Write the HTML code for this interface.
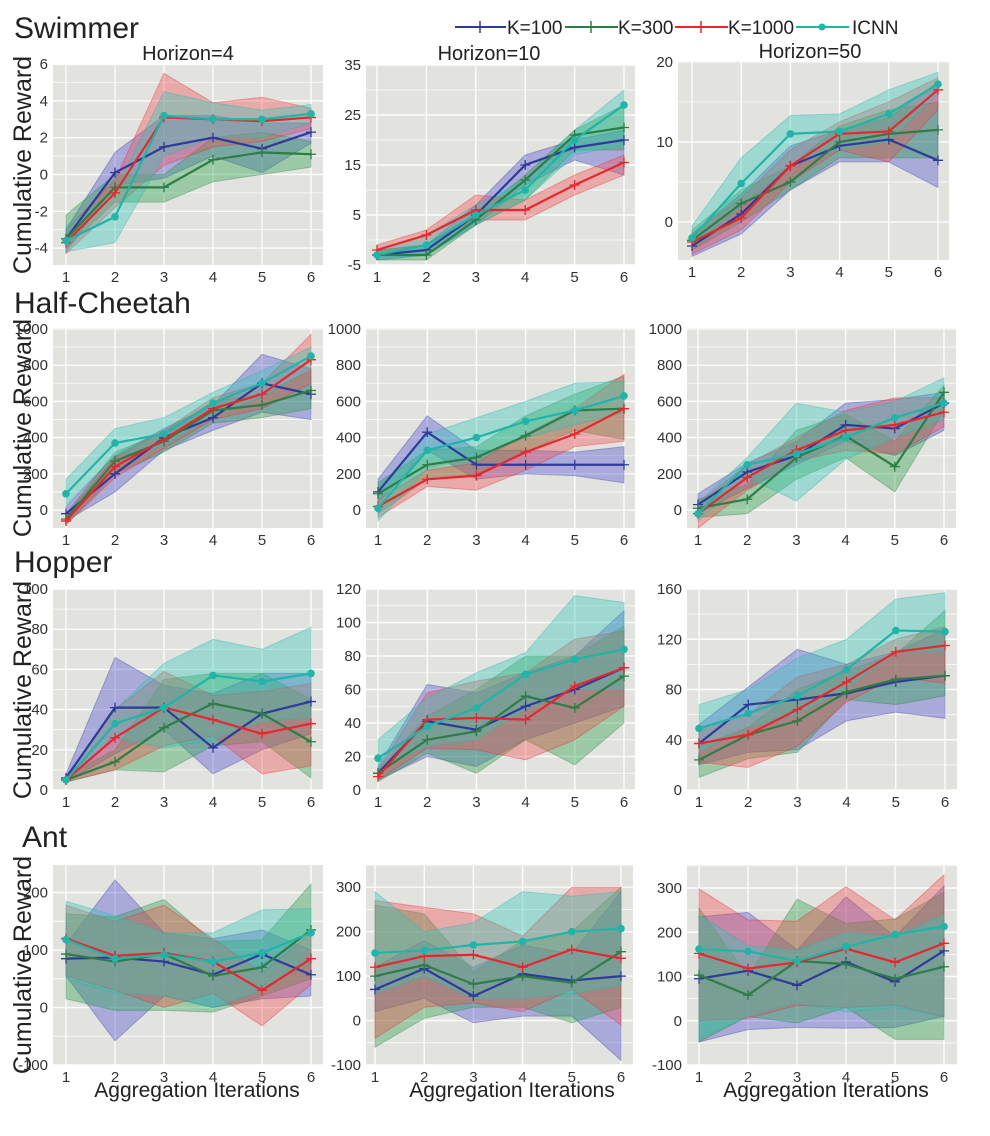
<!DOCTYPE html>
<html><head><meta charset="utf-8">
<style>
body{margin:0;background:#fff;}
svg{display:block;font-family:"Liberation Sans",sans-serif;}
</style></head>
<body>
<svg id="fig" width="990" height="1136" viewBox="0 0 990 1136" xmlns="http://www.w3.org/2000/svg">
<rect width="990" height="1136" fill="#fff"/>
<text x="14" y="38" font-size="30" fill="#222">Swimmer</text>
<text x="14" y="313" font-size="30" fill="#222">Half-Cheetah</text>
<text x="14" y="572" font-size="30" fill="#222">Hopper</text>
<text x="22" y="847" font-size="30" fill="#222">Ant</text>
<text x="188" y="60" font-size="20" fill="#222" text-anchor="middle">Horizon=4</text>
<text x="489" y="60" font-size="20" fill="#222" text-anchor="middle">Horizon=10</text>
<text x="810" y="58" font-size="20" fill="#222" text-anchor="middle">Horizon=50</text>
<g>
 <g><line x1="455" y1="27" x2="506" y2="27" stroke="#2f3a9a" stroke-width="2"/><line x1="480" y1="21" x2="480" y2="33" stroke="#2f3a9a" stroke-width="1.5"/><text x="507" y="34" font-size="19" fill="#222">K=100</text></g>
 <g><line x1="565" y1="27" x2="618" y2="27" stroke="#2e7d46" stroke-width="2"/><line x1="591" y1="21" x2="591" y2="33" stroke="#2e7d46" stroke-width="1.5"/><text x="618" y="34" font-size="19" fill="#222">K=300</text></g>
 <g><line x1="675" y1="27" x2="728" y2="27" stroke="#e8262e" stroke-width="2"/><line x1="701" y1="21" x2="701" y2="33" stroke="#e8262e" stroke-width="1.5"/><text x="728" y="34" font-size="19" fill="#222">K=1000</text></g>
 <g><line x1="796" y1="27" x2="849" y2="27" stroke="#1fb5a8" stroke-width="2"/><circle cx="822" cy="27" r="3.5" fill="#1fb5a8"/><text x="852" y="34" font-size="19" fill="#222">ICNN</text></g>
</g>
<text transform="translate(31,165) rotate(-90)" font-size="25" fill="#222" text-anchor="middle">Cumulative Reward</text>
<text transform="translate(31,428) rotate(-90)" font-size="25" fill="#222" text-anchor="middle">Cumulative Reward</text>
<text transform="translate(31,690) rotate(-90)" font-size="25" fill="#222" text-anchor="middle">Cumulative Reward</text>
<text transform="translate(31,965) rotate(-90)" font-size="25" fill="#222" text-anchor="middle">Cumulative Reward</text>
<text x="197" y="1097" font-size="21" fill="#222" text-anchor="middle">Aggregation Iterations</text>
<text x="512" y="1097" font-size="21" fill="#222" text-anchor="middle">Aggregation Iterations</text>
<text x="826" y="1097" font-size="21" fill="#222" text-anchor="middle">Aggregation Iterations</text>
<g id="panels"></g>
</svg>
<script>
// x categories
const iterations = [1,2,3,4,5,6];
const seriesNames = ["K=100","K=300","K=1000","ICNN"];
// ----- Swimmer H4
const swim4_mean = [[-3.5,0.1,1.5,2.0,1.4,2.3],[-3.5,-0.7,-0.7,0.8,1.2,1.1],[-3.7,-1.0,3.1,3.0,2.9,3.1],[-3.6,-2.3,3.2,3.0,3.0,3.3]];
const swim4_lo = [[-4.2,-0.6,-0.2,1.0,0.1,1.7],[-4.0,-1.5,-1.5,-0.4,0.0,0.4],[-4.3,-1.8,0.5,1.5,1.8,2.5],[-4.2,-3.7,1.0,2.0,2.0,2.8]];
const swim4_hi = [[-3.0,1.2,3.2,3.2,2.8,2.8],[-2.2,0.0,0.0,2.0,2.3,1.8],[-3.0,-0.3,5.5,3.9,4.2,3.6],[-2.8,-0.9,4.5,3.9,3.5,3.8]];
const swim4_ticks = [-4,-2,0,2,4,6];
// ----- Swimmer H10
const swim10_mean = [[-3,-2,5,15,18.5,20],[-3,-3,4,12,21,22.5],[-2,1,6,6,11,15.5],[-3,-1,5,10,20,27]];
const swim10_lo = [[-4,-3,3,11,16,13],[-4,-4,3,8,18,18],[-3,-1,4,4,9,13],[-4,-3,3,8,17,19]];
const swim10_hi = [[-2,-1,7,17,20,22],[-2,-1,5,13,22,27],[-1,2,9,8,13,17],[-2,1,7,12,22,30]];
const swim10_ticks = [-5,5,15,25,35];
// ----- Swimmer H50
const swim50_mean = [[-3,1,7,9.5,10.3,7.7],[-2.3,2.3,5,10,11,11.5],[-2.5,0.5,7,11,11.3,16.5],[-2,4.8,11,11.3,13.5,17.2]];
const swim50_lo = [[-4.3,-1.5,4,7.5,7.5,4.3],[-3.5,0,4,8,8,8],[-4,-1,5,9,7.5,14],[-3,2,7,9,10,16]];
const swim50_hi = [[-1.5,3.5,9.5,11.5,13,17.5],[-1,4,7,12,14,15],[-1.5,3,9,12.5,15,18],[-0.5,8,13.3,13.5,16.5,18.7]];
const swim50_ticks = [0,10,20];
// ----- Half-Cheetah
const hc4_mean = [[-20,200,400,510,700,640],[-50,270,380,550,580,660],[-60,240,390,560,640,830],[90,370,420,590,700,850]];
const hc4_lo = [[-60,100,330,440,540,500],[-80,200,320,480,510,560],[-80,180,340,500,560,700],[30,300,350,520,620,780]];
const hc4_hi = [[20,300,450,580,860,780],[-20,320,430,600,640,770],[-30,290,440,620,700,970],[170,450,510,650,770,900]];
const hc10_mean = [[100,430,250,250,250,250],[90,250,290,410,550,560],[20,170,190,320,420,560],[10,330,400,490,550,630]];
const hc10_lo = [[40,330,170,200,190,150],[-20,170,200,320,440,390],[-40,130,110,220,350,380],[-60,230,300,400,470,540]];
const hc10_hi = [[170,520,330,330,320,350],[150,330,350,520,640,740],[60,220,260,420,560,750],[120,420,510,600,700,710]];
const hc50_mean = [[30,210,300,470,450,590],[10,60,290,410,240,650],[-20,180,330,440,470,540],[-20,250,310,400,510,590]];
const hc50_lo = [[-20,120,250,380,300,440],[-40,-20,170,290,100,550],[-100,110,270,330,310,460],[-60,180,50,280,400,500]];
const hc50_hi = [[90,260,380,590,610,650],[60,140,440,530,380,690],[40,250,400,550,620,620],[40,290,590,540,600,730]];
const hc_ticks = [0,200,400,600,800,1000];
// ----- Hopper
const hop4_mean = [[6,41,41,21,38,44],[5,14,31,43,38,24],[5,26,41,35,28,33],[5,33,41,57,54,58]];
const hop4_lo = [[4,18,30,8,20,28],[4,10,9,22,24,6],[4,10,22,27,8,12],[4,26,21,25,34,36]];
const hop4_hi = [[8,66,52,48,58,58],[7,20,55,58,58,45],[7,40,59,47,49,53],[7,40,63,75,70,81]];
const hop4_ticks = [0,20,40,60,80,100];
const hop10_mean = [[10,41,36,50,60,73],[10,30,35,56,49,68],[8,42,43,42,62,73],[19,38,49,69,78,84]];
const hop10_lo = [[6,20,14,30,40,50],[5,22,10,30,15,40],[6,25,24,18,30,50],[12,26,30,48,60,60]];
const hop10_hi = [[14,63,58,70,80,107],[12,44,60,80,80,98],[12,58,65,70,90,95],[30,55,70,82,116,112]];
const hop10_ticks = [0,20,40,60,80,100,120];
const hop50_mean = [[37,68,72,77,86,91],[24,44,55,78,88,91],[37,44,64,86,110,115],[49,61,75,96,127,126]];
const hop50_lo = [[20,30,32,55,62,57],[10,25,30,72,68,75],[22,18,35,70,90,85],[30,50,60,80,110,110]];
const hop50_hi = [[52,82,112,100,110,128],[35,50,80,95,108,143],[50,60,90,100,120,130],[68,80,105,120,152,157]];
const hop50_ticks = [0,40,80,120,160];
// ----- Ant
const ant4_mean = [[85,87,80,57,93,57],[93,80,93,55,70,135],[120,90,95,80,30,85],[118,85,92,80,95,130]];
const ant4_lo = [[55,-58,20,0,15,20],[15,-5,-5,-8,20,50],[55,30,0,25,-32,40],[50,25,20,0,30,80]];
const ant4_hi = [[110,222,130,120,135,100],[163,158,188,115,118,215],[178,150,178,120,60,130],[185,160,130,130,170,172]];
const ant4_ticks = [-100,0,100,200];
const ant10_mean = [[70,117,55,105,90,100],[100,125,82,100,85,155],[120,145,148,120,160,140],[152,158,170,178,200,207]];
const ant10_lo = [[20,50,-5,10,10,-90],[-60,5,30,30,-5,30],[-40,30,40,20,70,-10],[60,100,50,50,60,80]];
const ant10_hi = [[120,180,120,170,150,290],[260,240,110,180,200,300],[270,255,240,190,300,300],[290,200,220,290,280,290]];
const ant50_mean = [[95,113,80,133,88,158],[103,58,135,128,95,122],[152,118,132,163,132,175],[162,157,135,167,195,213]];
const ant50_lo = [[-48,-20,-15,-17,-15,10],[-48,10,-5,30,-42,-42],[0,5,35,30,35,10],[-40,10,40,20,30,10]];
const ant50_hi = [[235,245,160,280,190,305],[255,100,275,220,230,290],[298,228,225,303,228,330],[240,170,160,200,190,240]];
const ant_ticks = [-100,0,100,200,300];

const lineCol = ["#2f3a9a","#2e7d46","#e8262e","#1fb5a8"];
const fillCol = ["rgba(80,80,210,0.38)","rgba(40,160,70,0.38)","rgba(240,80,80,0.38)","rgba(50,200,185,0.38)"];
const NS = "http://www.w3.org/2000/svg";
const root = document.getElementById("panels");
function mk(tag, attrs, parent){const e=document.createElementNS(NS,tag);for(const k in attrs)e.setAttribute(k,attrs[k]);parent.appendChild(e);return e;}

const panels = [
 {id:"swimmer-h4",L:53,R:323,T:65,B:265,xa:66,xb:311,ymin:-4.92,ymax:5.95,mean:swim4_mean,lo:swim4_lo,hi:swim4_hi,ticks:swim4_ticks},
 {id:"swimmer-h10",L:366,R:635,T:65,B:265,xa:377,xb:624,ymin:-5,ymax:35,mean:swim10_mean,lo:swim10_lo,hi:swim10_hi,ticks:swim10_ticks},
 {id:"swimmer-h50",L:678,R:949,T:61,B:260,xa:692,xb:938,ymin:-4.75,ymax:20.1,mean:swim50_mean,lo:swim50_lo,hi:swim50_hi,ticks:swim50_ticks},
 {id:"half-cheetah-h4",L:53,R:323,T:328,B:528,xa:66,xb:311,ymin:-99,ymax:1005,mean:hc4_mean,lo:hc4_lo,hi:hc4_hi,ticks:hc_ticks},
 {id:"half-cheetah-h10",L:366,R:635,T:328,B:528,xa:378,xb:624,ymin:-99,ymax:1005,mean:hc10_mean,lo:hc10_lo,hi:hc10_hi,ticks:hc_ticks},
 {id:"half-cheetah-h50",L:687,R:956,T:328,B:528,xa:698,xb:944,ymin:-99,ymax:1005,mean:hc50_mean,lo:hc50_lo,hi:hc50_hi,ticks:hc_ticks},
 {id:"hopper-h4",L:53,R:323,T:589,B:790,xa:66,xb:311,ymin:0,ymax:100,mean:hop4_mean,lo:hop4_lo,hi:hop4_hi,ticks:hop4_ticks},
 {id:"hopper-h10",L:366,R:635,T:589,B:790,xa:378,xb:624,ymin:0,ymax:120,mean:hop10_mean,lo:hop10_lo,hi:hop10_hi,ticks:hop10_ticks},
 {id:"hopper-h50",L:687,R:957,T:589,B:790,xa:699,xb:945,ymin:0,ymax:160,mean:hop50_mean,lo:hop50_lo,hi:hop50_hi,ticks:hop50_ticks},
 {id:"ant-h4",L:53,R:323,T:865,B:1065,xa:66,xb:311,ymin:-100,ymax:248,mean:ant4_mean,lo:ant4_lo,hi:ant4_hi,ticks:ant4_ticks},
 {id:"ant-h10",L:366,R:633,T:865,B:1065,xa:375,xb:621,ymin:-100,ymax:350,mean:ant10_mean,lo:ant10_lo,hi:ant10_hi,ticks:ant_ticks},
 {id:"ant-h50",L:687,R:957,T:865,B:1065,xa:699,xb:944,ymin:-100,ymax:352,mean:ant50_mean,lo:ant50_lo,hi:ant50_hi,ticks:ant_ticks}
];

panels.forEach(p=>{
 const g = mk("g",{},root);
 
 
 const X = v => p.xa + (v-1)*(p.xb-p.xa)/5;
 const Y = v => p.B - (v-p.ymin)*(p.B-p.T)/(p.ymax-p.ymin);
 const bg = mk("rect",{x:p.L,y:p.T,width:p.R-p.L,height:p.B-p.T,fill:"#e2e3df"},g);
 
 
 const step = p.ticks[1]-p.ticks[0];
 for(let i=0;i<p.ticks.length;i++){
  const t=p.ticks[i];
  [t, t+step/2, t-step/2].forEach((v,k)=>{
   if(v<p.ymin||v>p.ymax) return;
   if(k===2 && i>0) return;
   mk("line",{x1:p.L,x2:p.R,y1:Y(v),y2:Y(v),stroke:"#fff","stroke-width":k===0?1.4:0.8,opacity:0.9},g);
  });
  const lab = mk("text",{x:p.L-5,y:Y(t)+5,"font-size":15,fill:"#333","text-anchor":"end"},g);
  lab.textContent = t;
  
  
 }
 iterations.forEach(it=>{
  mk("line",{x1:X(it),x2:X(it),y1:p.T,y2:p.B,stroke:"#fff","stroke-width":1.4,opacity:0.9},g);
  const lab = mk("text",{x:X(it),y:p.B+17,"font-size":15,fill:"#333","text-anchor":"middle"},g);
  lab.textContent = it;
  
  
 });
 for(let s=0;s<4;s++){
  let pts = iterations.map((it,i)=>X(it)+","+Y(p.hi[s][i]));
  pts = pts.concat(iterations.slice().reverse().map((it,j)=>X(it)+","+Y(p.lo[s][5-j])));
  const band = mk("polygon",{points:pts.join(" "),fill:fillCol[s],stroke:lineCol[s],"stroke-opacity":0.35,"stroke-width":1},g);
  
  
 }
 for(let s=0;s<4;s++){
  const pts = iterations.map((it,i)=>X(it)+","+Y(p.mean[s][i])).join(" ");
  const ln = mk("polyline",{points:pts,fill:"none",stroke:lineCol[s],"stroke-width":2.2},g);
  
  
  iterations.forEach((it,i)=>{
   const cx=X(it), cy=Y(p.mean[s][i]);
   let m;
   if(s===3){ m = mk("circle",{cx:cx,cy:cy,r:3.8,fill:lineCol[s]},g); }
   else { m = mk("path",{d:`M${cx-5},${cy}H${cx+5}M${cx},${cy-5}V${cy+5}`,stroke:lineCol[s],"stroke-width":1.3},g); }
   
   
  });
 }
});
</script>
</body></html>
